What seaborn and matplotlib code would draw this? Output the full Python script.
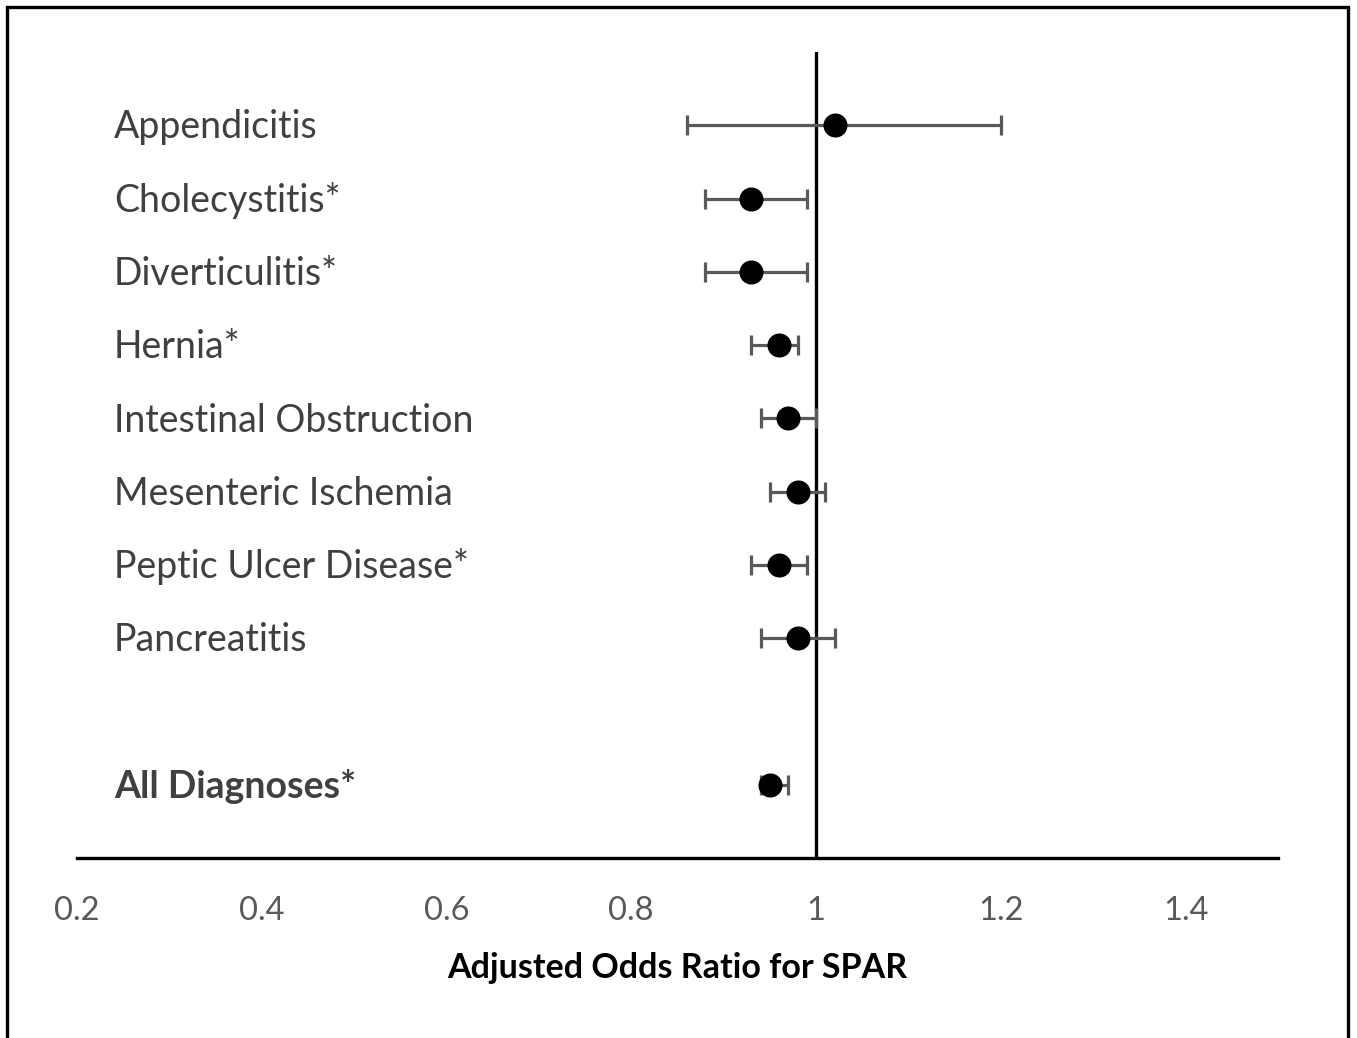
import matplotlib
matplotlib.use("Agg")
import matplotlib.pyplot as plt
import matplotlib.transforms as mtransforms
from matplotlib.patches import Rectangle
import seaborn as sns
import pandas as pd

diagnoses = ["Appendicitis", "Cholecystitis*", "Diverticulitis*", "Hernia*",
             "Intestinal Obstruction", "Mesenteric Ischemia",
             "Peptic Ulcer Disease*", "Pancreatitis", "All Diagnoses*"]
odds_ratio = [1.02, 0.93, 0.93, 0.96, 0.97, 0.98, 0.96, 0.98, 0.95]
ci_low = [0.86, 0.88, 0.88, 0.93, 0.94, 0.95, 0.93, 0.94, 0.94]
ci_high = [1.20, 0.99, 0.99, 0.98, 1.00, 1.01, 0.99, 1.02, 0.97]
x_ticks = [0.2, 0.4, 0.6, 0.8, 1.0, 1.2, 1.4]
x_tick_labels = ["0.2", "0.4", "0.6", "0.8", "1", "1.2", "1.4"]

sns.set_theme(style="white")
plt.rcParams['font.family'] = ['Lato', 'DejaVu Sans']

# row positions: individual diagnoses 1..8, summary row after a blank gap
rows = [i + 1 for i in range(len(diagnoses) - 1)] + [len(diagnoses) + 1]
df = pd.DataFrame({"dx": diagnoses, "or": odds_ratio, "lo": ci_low,
                   "hi": ci_high, "row": rows})

fig = plt.figure(figsize=(13.57, 10.38), dpi=100)
ax = fig.add_axes([77/1357, 1-858/1038, (1278-77)/1357, (858-52)/1038])

ax.errorbar(df["or"], df["row"],
            xerr=[df["or"] - df["lo"], df["hi"] - df["or"]],
            fmt="none", ecolor="#595959", elinewidth=2.3, capsize=7,
            capthick=2.3, zorder=2)
sns.scatterplot(data=df, x="or", y="row", ax=ax, color="black", s=300,
                edgecolor="black", linewidth=0, zorder=3, legend=False)

ax.axvline(1.0, color="black", linewidth=2.4, zorder=1)

ax.set_xlim(0.2, 1.5)
ax.set_ylim(11, 0)
ax.set_xticks(x_ticks)
ax.set_xticklabels(x_tick_labels, color="#595959", fontsize=23.5)
ax.tick_params(axis="x", length=0, pad=27)
ax.set_yticks([])
for s in ["top", "left", "right"]:
    ax.spines[s].set_visible(False)
ax.spines["bottom"].set_color("black")
ax.spines["bottom"].set_linewidth(2.4)
ax.set_xlabel("Adjusted Odds Ratio for SPAR", fontsize=24.5, fontweight="bold",
              color="black", labelpad=19)
ax.set_ylabel("")

trans = mtransforms.blended_transform_factory(ax.transAxes, ax.transData)
for i, r in df.iterrows():
    bold = (i == len(df) - 1)
    ax.text((114-77)/1201, r["row"] + 0.18, r["dx"], transform=trans,
            ha="left", va="baseline", fontsize=27, color="#404040",
            fontweight="bold" if bold else "normal")

fig.patches.append(Rectangle((7/1357, -0.05), (1348-7)/1357, 1.05 - 7/1038,
                             transform=fig.transFigure, fill=False,
                             edgecolor="black", linewidth=2.4))

fig.savefig("out.png", dpi=100)
